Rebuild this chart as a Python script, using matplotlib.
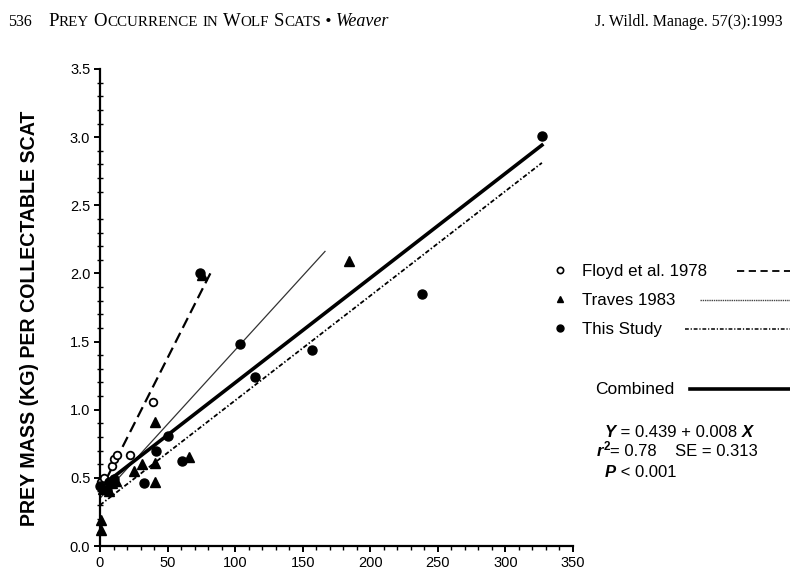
import matplotlib
matplotlib.use('Agg')
import matplotlib.pyplot as plt
from matplotlib.ticker import MultipleLocator, FormatStrFormatter
import numpy as np

# ---------------- data ----------------
floyd_x = [0.5, 3, 9, 10.5, 12.5, 22, 39.5]
floyd_y = [0.47, 0.50, 0.59, 0.64, 0.67, 0.67, 1.06]

traves_x = [0.5, 0.5, 2, 6.5, 9, 12, 25, 31, 40.5, 40.5, 40.5, 65.5, 75.5, 184]
traves_y = [0.19, 0.12, 0.42, 0.40, 0.46, 0.48, 0.55, 0.60, 0.61, 0.47, 0.91, 0.65, 1.99, 2.09]

study_x = [0, 5, 7, 10, 32.5, 41.5, 50, 60.5, 74, 103.5, 114.5, 157, 238.5, 327]
study_y = [0.44, 0.41, 0.47, 0.49, 0.46, 0.70, 0.81, 0.625, 2.00, 1.48, 1.24, 1.44, 1.85, 3.01]

# regression lines: intercept, slope, x start, x end
floyd_fit = (0.40, 0.0196, 0, 83)
traves_fit = (0.35, 0.01088, 0, 166.5)
study_fit = (0.30, 0.00768, 0, 327)
combined_fit = (0.43, 0.00768, 0, 327)

legend_labels = ["Floyd et al. 1978", "Traves 1983", "This Study"]
ylabel = "PREY MASS (KG) PER COLLECTABLE SCAT"

W, H = 790, 569
fig = plt.figure(figsize=(W / 100, H / 100), dpi=100)
plt.rcParams['font.family'] = ['Liberation Sans', 'DejaVu Sans']

ax = fig.add_axes([100 / W, 1 - 546 / H, 473 / W, 477 / H])
ax.set_xlim(0, 350)
ax.set_ylim(0, 3.5)
for s in ['top', 'right']:
    ax.spines[s].set_visible(False)
for s in ['left', 'bottom']:
    ax.spines[s].set_linewidth(1.6)
ax.xaxis.set_major_locator(MultipleLocator(50))
ax.xaxis.set_minor_locator(MultipleLocator(10))
ax.yaxis.set_major_locator(MultipleLocator(0.5))
ax.yaxis.set_minor_locator(MultipleLocator(0.1))
ax.yaxis.set_major_formatter(FormatStrFormatter('%.1f'))
ax.tick_params(which='major', direction='out', length=4, width=1.4, labelsize=10.5, pad=3)
ax.tick_params(which='minor', direction='inout', length=4, width=1.0)
ax.tick_params(axis='x', which='minor', direction='out', length=3)

def fit_line(fit, **kw):
    a, b, x0, x1 = fit
    xs = np.array([x0, x1])
    ax.plot(xs, a + b * xs, **kw)

fit_line(floyd_fit, color='black', lw=1.6, ls=(0, (5, 2.5)), zorder=2)
fit_line(traves_fit, color='#333333', lw=0.9, ls='-', zorder=2)
fit_line(study_fit, color='black', lw=1.3, ls=(0, (2.5, 1.2, 0.8, 1.2)), zorder=2)
fit_line(combined_fit, color='black', lw=2.6, ls='-', zorder=2)

ax.plot(floyd_x, floyd_y, 'o', ms=5.5, mfc='white', mec='black', mew=1.3, zorder=3, clip_on=False)
ax.plot(traves_x, traves_y, '^', ms=6.5, mfc='black', mec='black', zorder=3, clip_on=False)
ax.plot(study_x, study_y, 'o', ms=6.5, mfc='black', mec='black', zorder=3, clip_on=False)

# overlay in pixel coordinates for annotations
ov = fig.add_axes([0, 0, 1, 1], zorder=5)
ov.set_xlim(0, W)
ov.set_ylim(H, 0)
ov.axis('off')
ov.patch.set_alpha(0)

ov.text(30, 318, ylabel, rotation=90, ha='center', va='center',
        fontsize=14.1, fontweight='bold')

# legend
leg_y = [270, 299, 328]
leg_marker = [dict(marker='o', ms=4.5, mfc='white', mec='black', mew=1.2),
              dict(marker='^', ms=5, mfc='black', mec='black'),
              dict(marker='o', ms=5, mfc='black', mec='black')]
leg_line = [dict(color='black', lw=1.3, ls=(0, (4, 2.5)), x0=737),
            dict(color='#444444', lw=1.0, ls=(0, (1, 0.6)), x0=700),
            dict(color='black', lw=1.1, ls=(0, (2.5, 1.2, 0.8, 1.2)), x0=685)]
for y, lab, mk, ln in zip(leg_y, legend_labels, leg_marker, leg_line):
    ov.plot([560], [y], ls='none', **mk)
    ov.text(582, y + 1, lab, ha='left', va='center', fontsize=12.2)
    x0 = ln.pop('x0')
    ov.plot([x0, 790], [y + 1, y + 1], **ln)

ov.text(595, 389, "Combined", ha='left', va='center', fontsize=12.5)
ov.plot([690, 790], [389, 389], color='black', lw=2.6)

renderer = fig.canvas.get_renderer()

def runs(x, y, parts, **common):
    for txt, props in parts:
        kw = dict(common)
        kw.update(props)
        t = ov.text(x, y, txt, ha='left', va='baseline', **kw)
        bb = t.get_window_extent(renderer=renderer)
        x += bb.width
    return x

bi = dict(fontweight='bold', fontstyle='italic')
runs(605, 437, [("Y", bi), (" = 0.439 + 0.008 ", {}), ("X", bi)], fontsize=12)
xr = runs(597, 456, [("r", bi)], fontsize=12)
ov.text(xr, 450, "2", ha='left', va='baseline', fontsize=8.5, fontweight='bold')
runs(xr + 6, 456, [("= 0.78    SE = 0.313", {})], fontsize=12)
runs(605, 477, [("P", bi), (" < 0.001", {})], fontsize=12)

# header
serif = ['Liberation Serif', 'DejaVu Serif']
ov.text(8, 26, "536", ha='left', va='baseline', fontsize=11.5, family=serif)

def small_caps(x, y, text, big=13.5, small=10.8):
    parts = []
    for word in text.split(' '):
        if parts:
            parts.append((' ', dict(fontsize=big)))
        if word[0].isupper():
            parts.append((word[0], dict(fontsize=big)))
            if len(word) > 1:
                parts.append((word[1:].upper(), dict(fontsize=small)))
        else:
            parts.append((word.upper(), dict(fontsize=small)))
    return runs(x, y, parts, family=serif)

xh = small_caps(48, 26, "Prey Occurrence in Wolf Scats")
xh = runs(xh, 26, [(" \u2022 ", dict(fontsize=12.5)), ("Weaver", dict(fontsize=13, fontstyle='italic'))], family=serif)
ov.text(783, 26, "J. Wildl. Manage. 57(3):1993", ha='right', va='baseline', fontsize=11.5, family=serif)

fig.savefig('out.png', dpi=100)
